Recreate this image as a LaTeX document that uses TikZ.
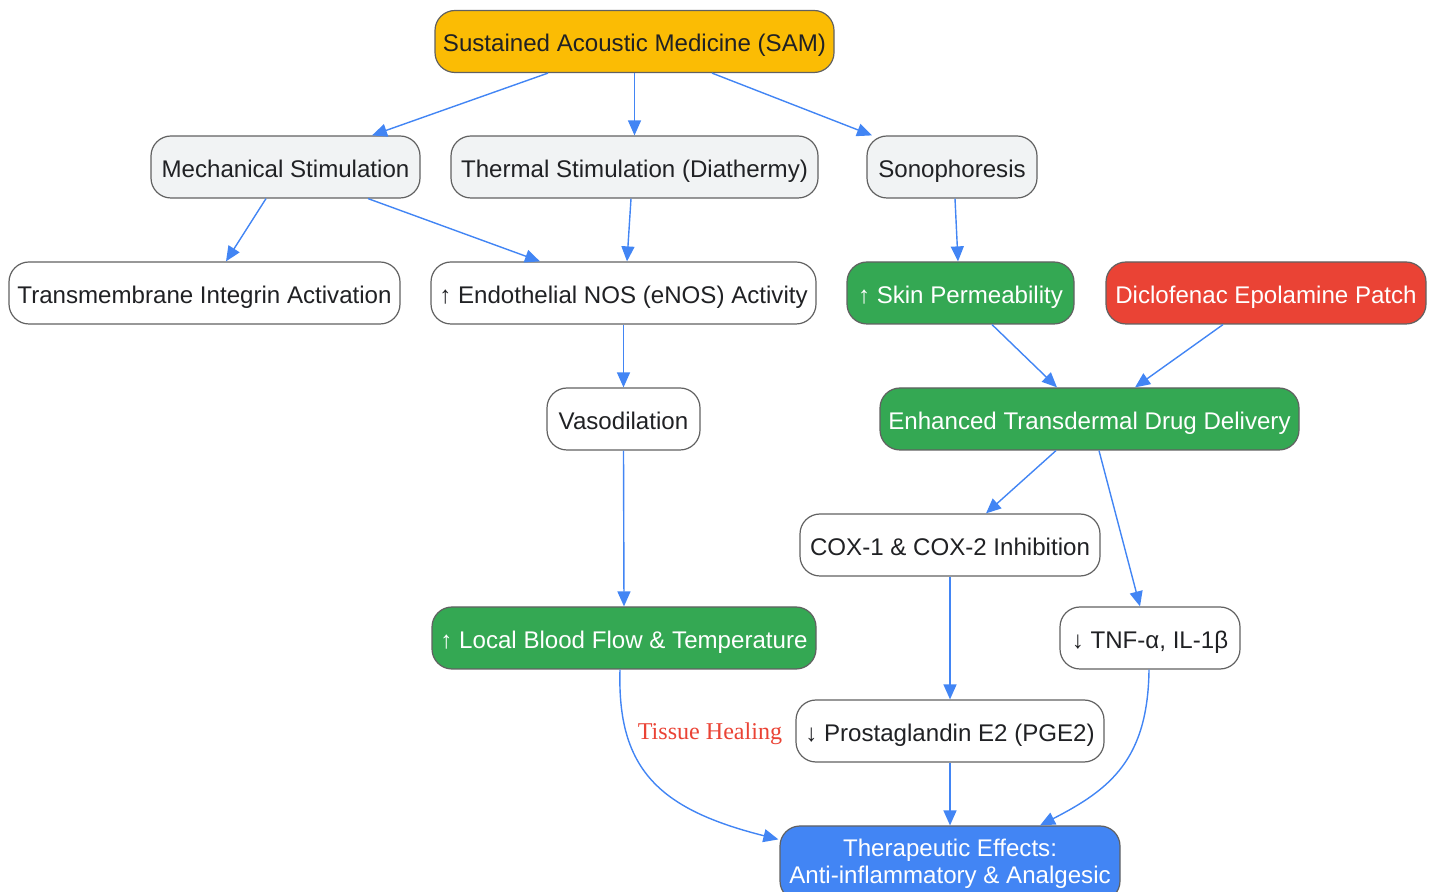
\documentclass[tikz,border=0pt]{standalone}
\usepackage{fontspec}
\setmainfont{Liberation Sans}
\newfontfamily\serifhl{Liberation Serif}
\usetikzlibrary{arrows.meta,calc}
\definecolor{cyellow}{HTML}{FBBC04}
\definecolor{cgray}{HTML}{F1F3F4}
\definecolor{cgreen}{HTML}{34A853}
\definecolor{cred}{HTML}{EA4335}
\definecolor{cblue}{HTML}{4285F4}
\definecolor{cborder}{HTML}{616161}
\definecolor{ctext}{HTML}{202124}
\tikzset{
  boxbase/.style={draw=cborder, line width=0.6pt, rounded corners=10pt, inner sep=0pt,
    minimum height=31pt, align=center, text=ctext,
    font=\fontsize{12.05}{13.5}\selectfont},
  box/.style={boxbase, text height=12pt, text depth=1.8pt},
  graybox/.style={box, fill=cgray},
  whitebox/.style={box, fill=white},
  greenbox/.style={box, fill=cgreen, text=white},
  redbox/.style={box, fill=cred, text=white},
  yellowbox/.style={box, fill=cyellow},
  bluebox/.style={boxbase, fill=cblue, text=white},
  conn/.style={draw=cblue, line width=0.7pt, -{Triangle[length=7.5pt,width=6.5pt]}},
}
\begin{document}
\begin{tikzpicture}[x=0.5pt,y=-0.5pt]
\useasboundingbox (0,0) rectangle (1436,892);
\node[yellowbox, minimum width=199.5pt] (sam) at (634.5,41.5) {Sustained Acoustic Medicine (SAM)};
\node[graybox, minimum width=134.5pt] (mech) at (285.5,167) {Mechanical Stimulation};
\node[graybox, minimum width=183.5pt] (therm) at (634.5,167) {Thermal Stimulation (Diathermy)};
\node[graybox, minimum width=85pt] (sono) at (952,167) {Sonophoresis};
\node[whitebox, minimum width=195.5pt] (integ) at (204.5,293) {Transmembrane Integrin Activation};
\node[whitebox, minimum width=192.5pt] (enos) at (623.5,293) {↑ Endothelial NOS (eNOS) Activity};
\node[greenbox, minimum width=113.5pt] (skin) at (960.5,293) {↑ Skin Permeability};
\node[redbox, minimum width=160pt] (diclo) at (1266,293) {Diclofenac Epolamine Patch};
\node[whitebox, minimum width=76.5pt] (vaso) at (623.5,419) {Vasodilation};
\node[greenbox, minimum width=209.5pt] (tdd) at (1089.5,419) {Enhanced Transdermal Drug Delivery};
\node[whitebox, minimum width=150pt] (cox) at (950,545) {COX-1 \& COX-2 Inhibition};
\node[whitebox, minimum width=90pt] (tnf) at (1150,638) {↓ TNF-α, IL-1β};
\node[greenbox, minimum width=192pt] (blood) at (624,638) {↑ Local Blood Flow \& Temperature};
\node[whitebox, minimum width=154pt] (pge) at (950,731) {↓ Prostaglandin E2 (PGE2)};
\node[bluebox, minimum width=170pt, minimum height=37.5pt] (ther) at (950,863.5) {Therapeutic Effects:\\Anti-inflammatory \& Analgesic};
\node[text=cred, font=\serifhl\fontsize{12.05}{13.5}\selectfont] (heal) at (710,734) {Tissue Healing};

\draw[conn] ($(sam.south)+(-86.5,0)$) -- ($(mech.north)+(86.5,0)$);
\draw[conn] (sam.south) -- (therm.north);
\draw[conn] ($(sam.south)+(77.5,0)$) -- ($(sono.north)+(-80,0)$);
\draw[conn] ($(mech.south)+(-19.5,0)$) -- ($(integ.north)+(21.5,0)$);
\draw[conn] ($(mech.south)+(82.5,0)$) -- ($(enos.north)+(-83.5,0)$);
\draw[conn] ($(therm.south)+(-3.5,0)$) -- ($(enos.north)+(3.5,0)$);
\draw[conn] ($(sono.south)+(3,0)$) -- ($(skin.north)+(-2.5,0)$);
\draw[conn] (enos.south) -- (vaso.north);
\draw[conn] ($(skin.south)+(31.5,0)$) -- ($(tdd.north)+(-32.5,0)$);
\draw[conn] ($(diclo.south)+(-43,0)$) -- ($(tdd.north)+(45.5,0)$);
\draw[conn] (vaso.south) -- (blood.north);
\draw[conn] ($(tdd.south)+(-33.5,0)$) -- ($(cox.north)+(36,0)$);
\draw[conn] ($(tdd.south)+(9.5,0)$) -- ($(tnf.north)+(-10,0)$);
\draw[conn] (cox.south) -- (pge.north);
\draw[conn] (pge.south) -- (ther.north);
\draw[conn] ($(blood.south)+(-4,0)$) .. controls ($(blood.south)+(-7,100)$) and ($(ther.north west)+(-120,-16)$) .. ($(ther.north west)+(-1,14)$);
\draw[conn] ($(tnf.south)+(-1,0)$) .. controls ($(tnf.south)+(-2,90)$) and ($(ther.north)+(160,-36)$) .. ($(ther.north)+(90,0)$);
\end{tikzpicture}
\end{document}
